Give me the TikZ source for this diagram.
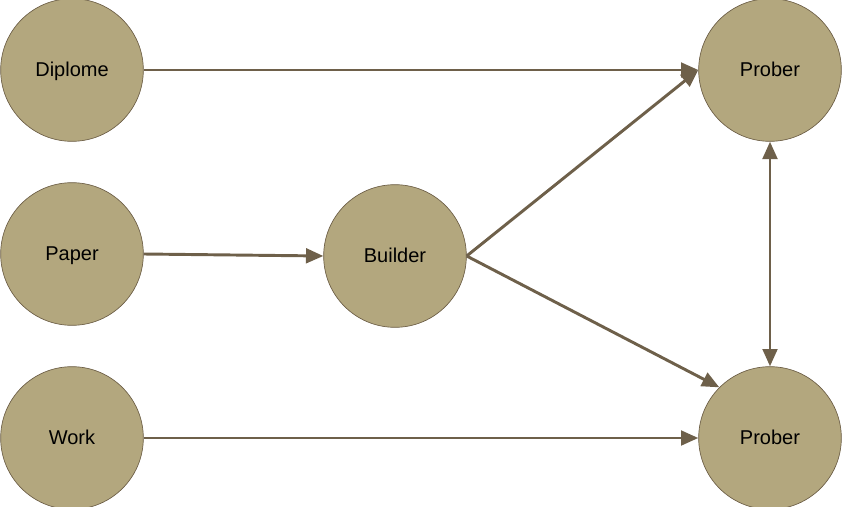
\documentclass[tikz,border=0pt]{standalone}
\usepackage{fontspec}
\setmainfont{Liberation Sans}
\usetikzlibrary{arrows.meta}
\definecolor{nodefill}{RGB}{179,167,126}
\definecolor{nodeline}{RGB}{107,93,69}
\definecolor{edgecol}{RGB}{110,96,74}

\begin{document}
\begin{tikzpicture}
  [
    -{Triangle[length=13pt,width=11pt]},
    line width=2.2pt,
    edgecol,
    node distance=138pt,
    main node/.style={circle, draw=nodeline, line width=0.5pt, fill=nodefill,
      text=black, minimum size=107pt, inner sep=0pt, text height=12pt, text depth=3pt,
      font=\fontsize{15}{18}\selectfont}
    ]
  \useasboundingbox (0,0) rectangle (632.25pt,-380.25pt);

  \node [main node] (diplome) at (54pt,-52.5pt) {Diplome};
  \node [main node] (paper) [below of=diplome] {Paper};
  \node [main node] (work) [below of=paper] {Work};
  \node [main node] (builder) [right of=paper, node distance=242.25pt, yshift=-1.5pt] {Builder};
  \node [main node] (prober1) [right of=diplome, node distance=523.5pt] {Prober};
  \node [main node] (prober2) [below of=prober1, node distance=276pt] {Prober};

  \draw (diplome) -- (prober1);
  \draw (paper.east) -- (builder.west);
  \draw (work) -- (prober2);
  \draw (builder.east) -- (prober1.west);
  \draw (builder.east) -- (prober2.north west);
  \draw [{Triangle[length=13pt,width=11pt]}-{Triangle[length=13pt,width=11pt]}] (prober1) -- (prober2);
\end{tikzpicture}
\end{document}
